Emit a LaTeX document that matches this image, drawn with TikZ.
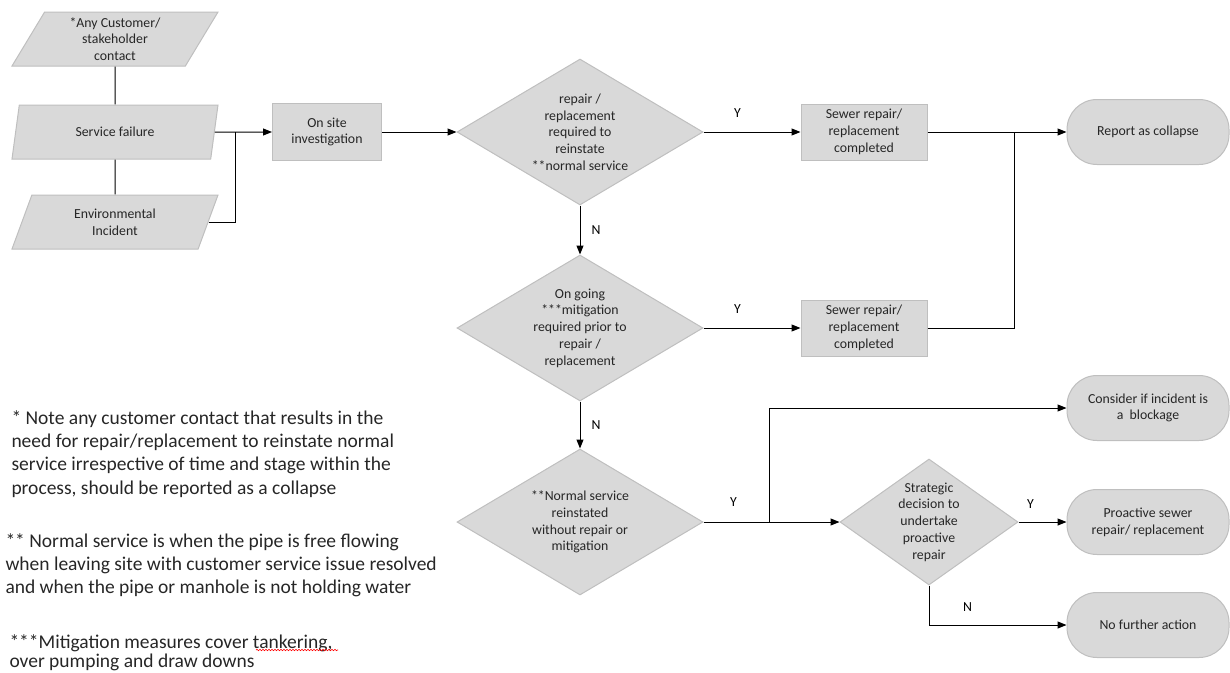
\documentclass[tikz,border=0pt]{standalone}
\usepackage{fontspec}
\setmainfont{Carlito}
\usepackage{tikz}
\usetikzlibrary{shapes.geometric,arrows.meta,decorations.pathmorphing}
\definecolor{boxfill}{HTML}{D9D9D9}
\definecolor{boxline}{HTML}{BFBFBF}
\definecolor{ink}{HTML}{262626}
\newcommand{\boxfont}{\fontsize{13.8}{16.7}\selectfont}
\newcommand{\notefont}{\fontsize{19.5}{23.3}\selectfont}
\tikzset{
    boxbase/.style={draw=boxline, fill=boxfill, text=ink, align=center, inner sep=0pt, font=\boxfont},
    inout/.style={boxbase, trapezium, trapezium left angle=53, trapezium right angle=127,
        trapezium stretches body, minimum width=206pt, minimum height=54pt},
    process/.style={boxbase, rectangle, minimum width=126pt, minimum height=56pt},
    decision/.style={boxbase, diamond, shape aspect=1.7, minimum width=246pt, minimum height=146pt},
    terminal/.style={boxbase, rectangle, rounded corners=30pt, minimum width=162pt, minimum height=65pt},
    yn/.style={text=black, inner sep=0pt, font=\boxfont},
    note/.style={text=ink, align=left, inner sep=0pt, anchor=north west, font=\notefont},
    flow/.style={draw=black, line width=1pt},
}

\begin{document}
\begin{tikzpicture}[x=1pt,y=-1pt,line width=1pt,>={Triangle[length=9pt,width=7pt]}]
            \useasboundingbox (0,0) rectangle (1230,672);
            \node[inout] (contact) at (115,39) {*Any Customer/\\stakeholder\\contact};
            \node[inout] (failure) at (115,132) {Service failure};
            \node[inout] (incident) at (115,222) {Environmental\\Incident};
            \node[process, minimum width=109pt, minimum height=57pt] (site) at (327,132) {On site\\investigation};
            \node[decision] (needrepair) at (580,132) {repair /\\replacement\\required to\\reinstate\\**normal service};
            \node[decision] (mitigation) at (580,328) {On going\\***mitigation\\required prior to\\repair /\\replacement};
            \node[decision] (reinstated) at (580,522) {**Normal service\\reinstated\\without repair or\\mitigation};
            \node[decision, shape aspect=1.4, minimum width=178pt, minimum height=126pt] (strategic) at (929,522) {Strategic\\decision to\\undertake\\proactive\\repair};
            \node[process] (sewerA) at (864,132) {Sewer repair/\\replacement\\completed};
            \node[process] (sewerB) at (864,328) {Sewer repair/\\replacement\\completed};
            \node[terminal] (collapse) at (1148,132) {Report as collapse};
            \node[terminal] (blockage) at (1148,408) {Consider if incident is\\a \ blockage};
            \node[terminal] (proactive) at (1148,522) {Proactive sewer\\repair/ replacement};
            \node[terminal] (noaction) at (1148,625) {No further action};
            \coordinate (joinA) at (235,132);
            \coordinate (joinB) at (1014,132);
            \coordinate (joinC) at (769,522);
            \draw[flow] (contact) -- (failure) -- (incident);
            \draw[flow,->] (failure) -- (site);
            \draw[flow] (incident) -| (joinA);
            \draw[flow,->] (site) -- (needrepair);
            \path[flow,->] (needrepair) edge node[yn,pos=0.35,above=14pt]{Y} (sewerA)
                (needrepair) edge node[yn,right=11pt]{N} (mitigation)
                (mitigation) edge node[yn,pos=0.35,above=14pt]{Y} (sewerB)
                (mitigation) edge node[yn,right=11pt]{N} (reinstated)
                (reinstated) edge node[yn,pos=0.22,above=15pt]{Y} (strategic)
                (strategic) edge node[yn,pos=0.25,above=13pt]{Y} (proactive);
            \draw[flow,->] (sewerA) -- (collapse);
            \draw[flow] (sewerB) -| (joinB);
            \draw[flow,->] (joinC) |- (blockage);
            \draw[flow,->] (strategic) |- node[yn,pos=0.64,above=13pt]{N} (noaction);
            \node[note] (noteA) at (11,410) {* Note any customer contact that results in the\\need for repair/replacement to reinstate normal\\service irrespective of time and stage within the\\process, should be reported as a collapse};
            \node[note] (noteB) at (5,533) {** Normal service is when the pipe is free flowing\\when leaving site with customer service issue resolved\\and when the pipe or manhole is not holding water};
            \node[note, font=\fontsize{19.5}{19.5}\selectfont] (noteC) at (9,634) {***Mitigation measures cover tankering,\\over pumping and draw downs};
            \draw[red, line width=0.6pt, decorate, decoration={snake, amplitude=0.7pt, segment length=3pt}] (256,650) -- (338,650);
\end{tikzpicture}
\end{document}
